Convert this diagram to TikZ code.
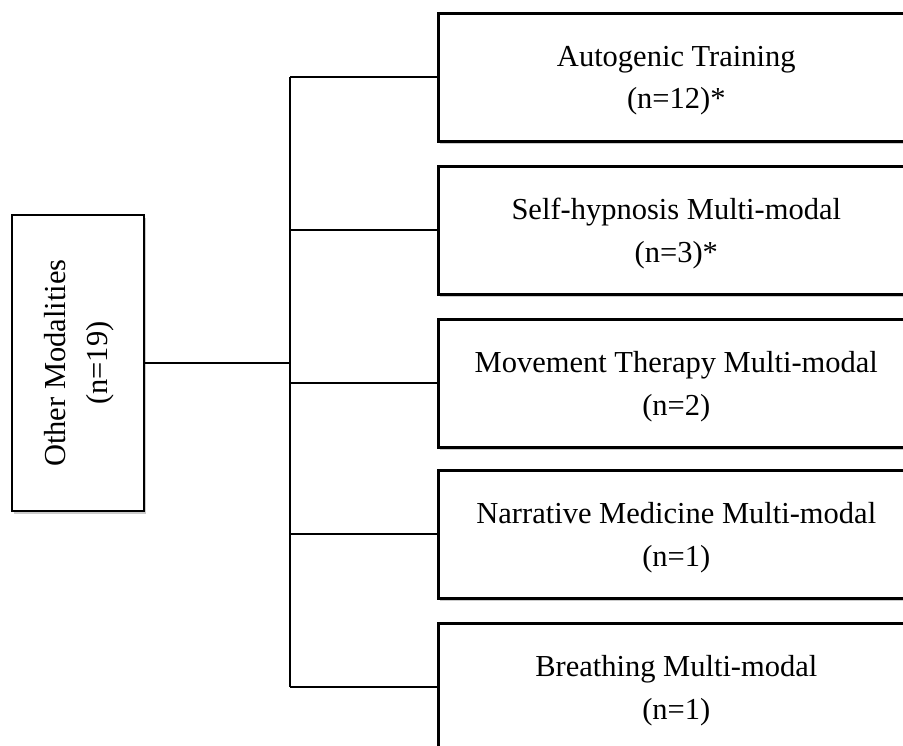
\documentclass[tikz,border=0pt]{standalone}
\usepackage{fontspec}
\setmainfont{Liberation Serif}
\usetikzlibrary{shadows}
\tikzset{
  catbox/.style={draw=black, line width=2.6pt, fill=white, align=center,
    minimum width=476pt, minimum height=128pt, anchor=north west, inner sep=0pt,
    text depth=-4pt,
    drop shadow={shadow xshift=1.5pt, shadow yshift=-3pt, fill=black!45, opacity=0.45}},
  rootbox/.style={draw=black, line width=2.6pt, fill=white,
    minimum width=132pt, minimum height=296pt, inner sep=0pt,
    drop shadow={shadow xshift=1.5pt, shadow yshift=-3pt, fill=black!45, opacity=0.45}},
  conn/.style={draw=black, line width=1.8pt},
  mainconn/.style={draw=black, line width=2.6pt},
  spine/.style={draw=black, line width=2.6pt},
}
\begin{document}
\begin{tikzpicture}[x=1pt, y=-1pt, font=\fontsize{30.5}{42.5}\selectfont]
\useasboundingbox (0,0) rectangle (903,746);
\fill[white] (0,0) rectangle (903,746);
\clip (0,0) rectangle (903,746);

\node[rootbox] (root) at (78,363) {\rotatebox{90}{\begin{tabular}{@{}c@{}}Other Modalities\\(n=19)\end{tabular}}};

\node[catbox] (b1) at (437,12)  {Autogenic Training\\(n=12)*};
\node[catbox] (b2) at (437,165) {Self-hypnosis Multi-modal\\(n=3)*};
\node[catbox] (b3) at (437,318) {Movement Therapy Multi-modal\\(n=2)};
\node[catbox] (b4) at (437,469) {Narrative Medicine Multi-modal\\(n=1)};
\node[catbox] (b5) at (437,622) {Breathing Multi-modal\\(n=1)};

\coordinate (J) at (290,363);

\draw[mainconn] (root.east) -- (J);
\draw[spine] (J |- b1.west) -- (J |- b5.west);
\foreach \b in {b1,b2,b3,b4,b5}{
  \draw[conn] (J |- \b.west) -- (\b.west);
}
\end{tikzpicture}
\end{document}
